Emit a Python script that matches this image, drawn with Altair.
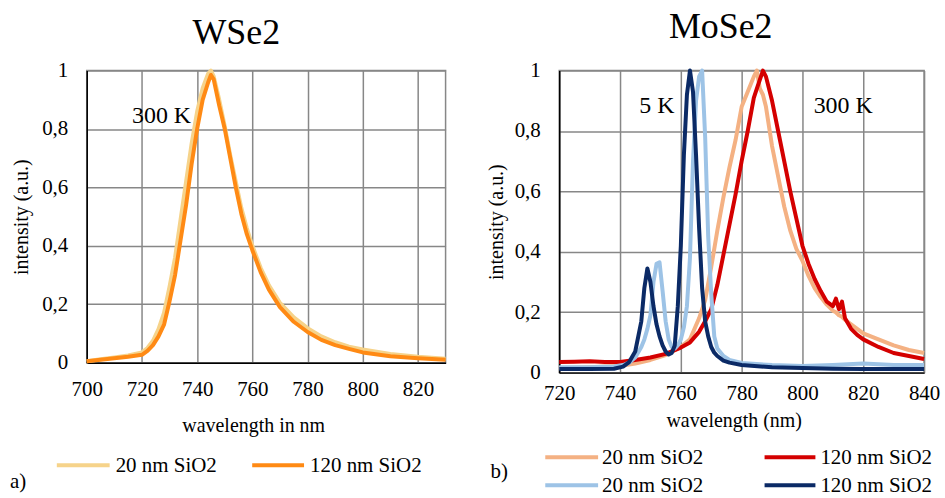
import altair as alt
import pandas as pd

# ---------------- data ----------------
# WSe2, 300 K
wse2_wl = [700, 705, 710, 715, 720, 722, 724, 726, 728, 730, 732, 734, 736, 738, 740,
           742, 744, 745, 746, 748, 750, 752, 754, 756, 758, 760, 763, 766, 770, 775,
           780, 785, 790, 795, 800, 810, 820, 830]
wse2_20nm = [0.005, 0.012, 0.018, 0.025, 0.035, 0.05, 0.075, 0.115, 0.17, 0.26, 0.36, 0.49,
             0.62, 0.75, 0.86, 0.94, 0.99, 1.0, 0.98, 0.90, 0.81, 0.71, 0.62, 0.53, 0.46,
             0.40, 0.325, 0.265, 0.205, 0.155, 0.118, 0.09, 0.07, 0.055, 0.045, 0.03, 0.02,
             0.013]
wse2_120nm = [0.005, 0.01, 0.015, 0.02, 0.027, 0.04, 0.06, 0.09, 0.13, 0.21, 0.30, 0.42,
              0.54, 0.68, 0.80, 0.90, 0.96, 0.985, 0.97, 0.88, 0.80, 0.70, 0.60, 0.51, 0.44,
              0.385, 0.31, 0.25, 0.19, 0.14, 0.105, 0.078, 0.06, 0.047, 0.035, 0.022, 0.015,
              0.01]

# MoSe2, 300 K
mose2_300_wl = [720, 725, 730, 735, 740, 745, 750, 755, 760, 763, 766, 768, 770, 772, 774,
                776, 778, 780, 782, 784, 785, 786, 787, 788, 790, 792, 794, 796, 798, 800,
                802, 804, 806, 808, 810, 811, 812, 813, 814, 816, 818, 820, 825, 830, 835, 840]
mose2_300_20nm = [0.015, 0.016, 0.018, 0.02, 0.022, 0.03, 0.042, 0.058, 0.085, 0.11, 0.18,
                  0.24, 0.35, 0.47, 0.58, 0.68, 0.77, 0.88, 0.93, 0.98, 1.0, 0.94, 0.92, 0.88,
                  0.75, 0.65, 0.55, 0.47, 0.41, 0.37, 0.32, 0.28, 0.25, 0.225, 0.205, 0.2,
                  0.19, 0.185, 0.175, 0.16, 0.145, 0.13, 0.11, 0.09, 0.075, 0.065]
mose2_300_120nm = [0.035, 0.036, 0.038, 0.035, 0.035, 0.042, 0.05, 0.062, 0.083, 0.10, 0.135,
                   0.17, 0.21, 0.29, 0.39, 0.49, 0.59, 0.70, 0.80, 0.91, 0.94, 0.97, 1.0,
                   0.98, 0.90, 0.80, 0.70, 0.60, 0.51, 0.42, 0.36, 0.31, 0.27, 0.235, 0.22,
                   0.245, 0.21, 0.235, 0.18, 0.145, 0.125, 0.11, 0.085, 0.065, 0.055, 0.045]

# MoSe2, 5 K
mose2_5_wl = [720, 730, 738, 741, 743, 745, 747, 748, 749, 750, 751, 752, 753, 754, 755, 756,
              757, 758, 759, 760, 761, 762, 763, 764, 765, 766, 767, 768, 769, 770, 771, 772,
              774, 776, 780, 790, 800, 810, 820, 830, 840]
mose2_5_20nm = [0.018, 0.018, 0.02, 0.025, 0.033, 0.05, 0.085, 0.11, 0.145, 0.19, 0.30, 0.36,
                0.365, 0.27, 0.17, 0.11, 0.085, 0.08, 0.09, 0.11, 0.15, 0.22, 0.38, 0.70,
                0.90, 0.98, 1.0, 0.78, 0.45, 0.26, 0.12, 0.08, 0.055, 0.042, 0.032, 0.025,
                0.022, 0.025, 0.03, 0.025, 0.025]
mose2_5_120nm = [0.012, 0.012, 0.013, 0.02, 0.035, 0.07, 0.17, 0.28, 0.345, 0.30, 0.22, 0.16,
                 0.12, 0.09, 0.07, 0.06, 0.065, 0.09, 0.22, 0.42, 0.72, 0.92, 1.0, 0.93, 0.72,
                 0.48, 0.28, 0.17, 0.12, 0.085, 0.066, 0.055, 0.04, 0.033, 0.025, 0.018, 0.015,
                 0.013, 0.012, 0.012, 0.012]

legend_labels = ["20 nm SiO2", "120 nm SiO2"]
wse2_colors = ["#F6D38A", "#FF8A14"]
mose2_colors = ["#F4B183", "#D40000", "#9DC3E6", "#0B2A66"]

FONT = "Liberation Serif, Times New Roman, serif"
GRID = "#878787"

# ---------------- panel geometry ----------------
LW, LH = 360, 293
RW, RH = 366, 303


def curve(wl, vals, color, xenc, yenc):
    df = pd.DataFrame({"wavelength": wl, "intensity": vals})
    return alt.Chart(df).mark_line(color=color, strokeWidth=4, strokeJoin="round").encode(
        x=xenc, y=yenc
    )


def text_at(txt, x, y, size, align="left", baseline="middle"):
    return alt.Chart(pd.DataFrame({"t": [txt]})).mark_text(
        font=FONT, fontSize=size, align=align, baseline=baseline, color="black"
    ).encode(x=alt.value(x), y=alt.value(y), text="t:N")


def legend_item(label, color, x1, x2, tx, y):
    rule = alt.Chart(pd.DataFrame({"t": [label]})).mark_rule(
        color=color, strokeWidth=4
    ).encode(x=alt.value(x1), x2=alt.value(x2), y=alt.value(y))
    return [rule, text_at(label, tx, y + 1, 21)]


def yaxis(title_x, h):
    return alt.Axis(
        values=[0, 0.2, 0.4, 0.6, 0.8, 1],
        labelExpr="replace(format(datum.value, '.1~f'), '.', ',')",
        title="intensity (a.u.)",
        titleX=title_x, titleY=h / 2, titleAngle=270, titleAlign="center",
        titleBaseline="middle",
        labelPadding=19, labelFlush=False,
    )


# ---------------- left panel: WSe2 ----------------
lx = alt.X("wavelength:Q", scale=alt.Scale(domain=[700, 830], nice=False, zero=False),
           axis=alt.Axis(values=list(range(700, 821, 20)), title="wavelength in nm",
                         labelPadding=16, labelFlush=False, titleX=167, titleY=69,
                         titleBaseline="alphabetic", titleAlign="center"))
ly = alt.Y("intensity:Q", scale=alt.Scale(domain=[0, 1], nice=False), axis=yaxis(-65, LH))

left_layers = [
    # anchor of the page's top-left corner
    alt.Chart(pd.DataFrame({"t": [0]})).mark_rule(color="white", strokeWidth=1).encode(
        x=alt.value(-85), x2=alt.value(-84.5), y=alt.value(-68)),
    curve(wse2_wl, wse2_20nm, wse2_colors[0], lx, ly),
    curve(wse2_wl, wse2_120nm, wse2_colors[1], lx, ly),
    alt.Chart(pd.DataFrame({"wavelength": [727.1], "intensity": [0.846], "t": ["300 K"]}))
    .mark_text(font=FONT, fontSize=24, align="center", baseline="middle", color="black")
    .encode(x="wavelength:Q", y="intensity:Q", text="t:N"),
    text_at("WSe2", 150, -27, 36, align="center", baseline="alphabetic"),
    text_at("a)", -77, 413, 21),
]
left_layers += legend_item(legend_labels[0], wse2_colors[0], -30, 23, 29, 396)
left_layers += legend_item(legend_labels[1], wse2_colors[1], 166, 218, 224, 396)

left = alt.layer(*left_layers).properties(width=LW, height=LH)

# ---------------- right panel: MoSe2 ----------------
rx = alt.X("wavelength:Q", scale=alt.Scale(domain=[720, 840], nice=False, zero=False),
           axis=alt.Axis(values=list(range(720, 841, 20)), title="wavelength (nm)",
                         labelPadding=10, labelFlush=False, titleX=175, titleY=54,
                         titleBaseline="alphabetic", titleAlign="center"))
ry = alt.Y("intensity:Q", scale=alt.Scale(domain=[0, 1], nice=False), axis=yaxis(-63, RH))

right_layers = [
    curve(mose2_300_wl, mose2_300_20nm, mose2_colors[0], rx, ry),
    curve(mose2_300_wl, mose2_300_120nm, mose2_colors[1], rx, ry),
    curve(mose2_5_wl, mose2_5_20nm, mose2_colors[2], rx, ry),
    curve(mose2_5_wl, mose2_5_120nm, mose2_colors[3], rx, ry),
    alt.Chart(pd.DataFrame({"wavelength": [752.1, 813.4], "intensity": [0.884, 0.884],
                            "t": ["5 K", "300 K"]}))
    .mark_text(font=FONT, fontSize=24, align="center", baseline="middle", color="black")
    .encode(x="wavelength:Q", y="intensity:Q", text="t:N"),
    text_at("MoSe2", 162, -33, 36, align="center", baseline="alphabetic"),
    text_at("b)", -69, 403, 21),
]
right_layers += legend_item(legend_labels[0], mose2_colors[0], -14, 39, 43, 388)
right_layers += legend_item(legend_labels[1], mose2_colors[1], 206, 257, 262, 388)
right_layers += legend_item(legend_labels[0], mose2_colors[2], -14, 39, 43, 416)
right_layers += legend_item(legend_labels[1], mose2_colors[3], 206, 257, 262, 416)

right = alt.layer(*right_layers).properties(width=RW, height=RH)

chart = (
    alt.hconcat(left, right, spacing=114, bounds="flush")
    .properties(padding={"left": 0, "top": 0, "right": 4, "bottom": 12})
    .configure_view(stroke=GRID, strokeWidth=1.5)
    .configure_axis(
        labelFont=FONT, labelFontSize=21, labelColor="black",
        titleFont=FONT, titleFontSize=20, titleFontWeight="normal", titleColor="black",
        grid=True, gridColor=GRID, gridWidth=1.5, gridOpacity=1,
        domainColor="black", domainWidth=1.5, ticks=False,
    )
    .configure_axisX(labelBaseline="top")
)

chart.save("out.html", embed_options={"renderer": "svg", "actions": False})
